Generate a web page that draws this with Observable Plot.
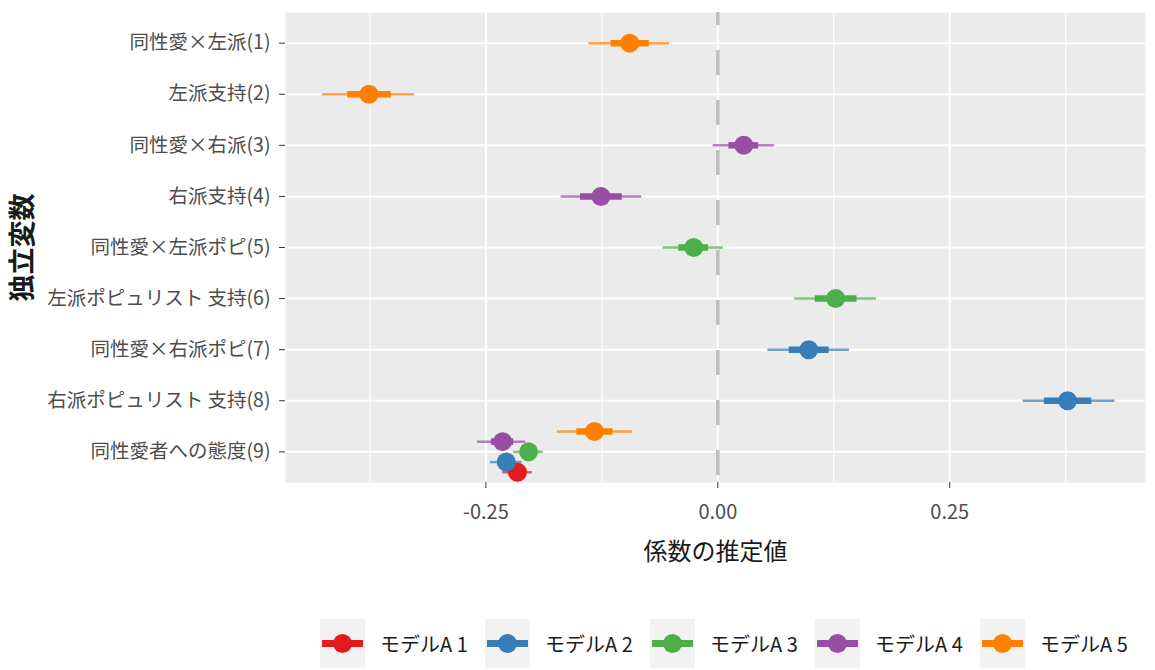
<!DOCTYPE html>
<html><head><meta charset="utf-8">
<script src="https://cdn.jsdelivr.net/npm/d3@7"></script>
<script src="https://cdn.jsdelivr.net/npm/@observablehq/plot@0.6"></script>
<style>
body{margin:0;background:#fff;font-family:"Noto Sans CJK JP","Noto Sans",sans-serif;}
#legend{display:flex;margin-left:320px;margin-top:19px;}
.item{display:flex;align-items:center;width:165px;}
.item svg{flex:none;}
.item span{font-size:20px;color:#1a1a1a;margin-left:15px;white-space:nowrap;}
</style></head>
<body>
<div id="chart"></div>
<div id="legend"></div>
<script>
const variables = ["同性愛×左派(1)","左派支持(2)","同性愛×右派(3)","右派支持(4)","同性愛×左派ポピ(5)","左派ポピュリスト 支持(6)","同性愛×右派ポピ(7)","右派ポピュリスト 支持(8)","同性愛者への態度(9)"];
const models = ["モデルA 1","モデルA 2","モデルA 3","モデルA 4","モデルA 5"];
const colors = ["#e41a1c","#377eb8","#4daf4a","#984ea3","#ff7f00"];
const termIdx = [1,2,3,4,5,6,7,8,9,9,9,9,9];
const modelIdx = [5,5,4,4,3,3,2,2,1,2,3,4,5];
const estimate = [-0.095,-0.376,0.028,-0.126,-0.026,0.127,0.098,0.377,-0.216,-0.228,-0.204,-0.232,-0.133];
const lo90 = [-0.115,-0.399,0.012,-0.148,-0.042,0.105,0.077,0.352,-0.224,-0.237,-0.212,-0.244,-0.152];
const hi90 = [-0.074,-0.352,0.044,-0.103,-0.010,0.150,0.120,0.403,-0.208,-0.219,-0.196,-0.220,-0.113];
const lo95 = [-0.139,-0.426,-0.005,-0.169,-0.059,0.083,0.054,0.329,-0.232,-0.245,-0.220,-0.259,-0.173];
const hi95 = [-0.052,-0.327,0.061,-0.082,0.006,0.171,0.142,0.428,-0.200,-0.211,-0.188,-0.207,-0.092];

const counts = {};
termIdx.forEach(t => counts[t] = (counts[t]||0)+1);
const data = termIdx.map((t,i) => ({
  term:t, model:models[modelIdx[i]-1],
  y: t + (counts[t] > 1 ? (3 - modelIdx[i]) * 0.2 : 0),
  est:estimate[i], lo90:lo90[i], hi90:hi90[i], lo95:lo95[i], hi95:hi95[i]
}));

const fmt = d => d.toFixed(2);
const chart = Plot.plot({
  width:1155, height:600,
  marginLeft:285, marginRight:10, marginTop:12, marginBottom:118,
  style:{fontFamily:'"Noto Sans CJK JP","Noto Sans",sans-serif', color:"#4d4d4d", background:"#fff"},
  x:{domain:[-0.466,0.461]},
  y:{domain:[9.6,0.4]},
  color:{domain:models, range:colors},
  marks:[
    Plot.frame({fill:"#ebebeb", stroke:null}),
    Plot.ruleX([-0.375,-0.125,0.125,0.375], {stroke:"#fff", strokeWidth:1}),
    Plot.ruleX([-0.25,0,0.25], {stroke:"#fff", strokeWidth:2}),
    Plot.ruleY([1,2,3,4,5,6,7,8,9], {stroke:"#fff", strokeWidth:2}),
    Plot.ruleX([0], {stroke:"#bebebe", strokeWidth:3.5, strokeDasharray:"25,25", strokeDashoffset:12}),
    Plot.ruleY(data, {y:"y", x1:"lo95", x2:"hi95", stroke:"model", strokeWidth:2.5, strokeOpacity:0.7}),
    Plot.ruleY(data, {y:"y", x1:"lo90", x2:"hi90", stroke:"model", strokeWidth:6.5}),
    Plot.dot(data, {x:"est", y:"y", fill:"model", r:9.5, stroke:null}),
    Plot.axisY({ticks:[1,2,3,4,5,6,7,8,9], tickFormat:i => variables[i-1], tickSize:6, tickPadding:9, fontSize:19.5, label:null, stroke:"#333"}),
    Plot.axisX({ticks:[-0.25,0,0.25], tickFormat:fmt, tickSize:6, tickPadding:16, fontSize:20, label:null, stroke:"#333"}),
    Plot.text(["係数の推定値"], {frameAnchor:"bottom", dy:77, fontSize:24, fill:"#1a1a1a"}),
    Plot.text(["独立変数"], {frameAnchor:"left", dx:-262, textAnchor:"middle", rotate:-90, fontSize:27, fontWeight:"bold", fill:"#1a1a1a"})
  ]
});
document.getElementById("chart").appendChild(chart);

const legend = document.getElementById("legend");
models.forEach((m,i) => {
  const it = document.createElement("div");
  it.className = "item";
  it.innerHTML = `<svg width="45" height="49"><rect width="45" height="49" fill="#f2f2f2"/>
    <line x1="2" x2="43" y1="24.5" y2="24.5" stroke="${colors[i]}" stroke-width="7"/>
    <circle cx="22.5" cy="24.5" r="9.5" fill="${colors[i]}"/></svg><span>${m}</span>`;
  legend.appendChild(it);
});
</script>
</body></html>
